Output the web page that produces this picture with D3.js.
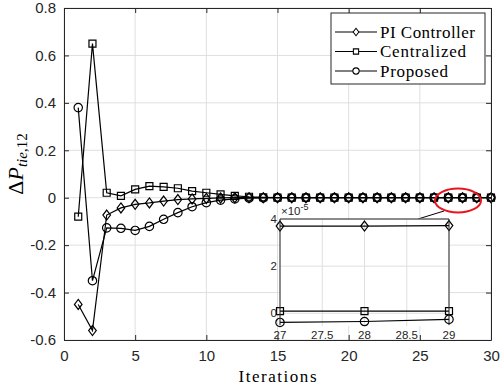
<!DOCTYPE html>
<meta charset="utf-8">
<head>
<style>
  body { margin: 0; background: white; }
  svg { display: block; }
  .tick text { font-family: "Liberation Sans", Arial, sans-serif; }
</style>
<script src="https://cdn.jsdelivr.net/npm/d3@7"></script>
</head>
<body>
<svg id="chart"></svg>
<script>
// ---- data ----
let iterations = [1,2,3,4,5,6,7,8,9,10,11,12,13,14,15,16,17,18,19,20,21,22,23,24,25,26,27,28,29,30]
let piController = [-0.45,-0.56,-0.073,-0.043,-0.028,-0.022,-0.014,-0.008,-0.005,-0.003,-0.001,0,0,0,0,0,0,0,0,0,0,0,0,0,0,0,3.7e-5,3.7e-5,3.72e-5,0]
let centralized = [-0.08,0.65,0.021,0.008,0.035,0.049,0.046,0.04,0.028,0.021,0.014,0.008,0.004,0.002,0,0,0,0,0,0,0,0,0,0,0,0,0.09e-5,0.09e-5,0.09e-5,0]
let proposed = [0.38,-0.35,-0.127,-0.129,-0.138,-0.121,-0.091,-0.063,-0.038,-0.021,-0.01,-0.005,-0.002,-0.001,0,0,0,0,0,0,0,0,0,0,0,0,-0.39e-5,-0.35e-5,-0.26e-5,0]
let seriesNames = ["PI Controller", "Centralized", "Proposed"]
let markers = ["diamond", "square", "circle"]

let xTicks = [0,5,10,15,20,25,30]
let yTicks = [-0.6,-0.4,-0.2,0,0.2,0.4,0.6,0.8]

// inset (zoom on iterations 27..29)
let insetIter = [27,28,29]
let insetXTicks = [27,27.5,28,28.5,29]
let insetYTicks = [0,2e-5,4e-5]

let width = 500, height = 387
let margin = {left: 64, right: 9, top: 8, bottom: 47}
let axisColor = "#262626", gridColor = "#dfdfdf"

let svg = d3.select("#chart").attr("width", width).attr("height", height)

let x = d3.scaleLinear().domain([0,30]).range([margin.left, width - margin.right])
let y = d3.scaleLinear().domain([-0.6,0.8]).range([height - margin.bottom, margin.top])

function markerPath(type) {
  if (type == "diamond") return "M0,-5L3.8,0L0,5L-3.8,0Z"
  if (type == "square") return "M-3.5,-3.5H3.5V3.5H-3.5Z"
  return d3.symbol(d3.symbolCircle, Math.PI * 4.2 * 4.2)()
}

let allSeries = [piController, centralized, proposed]

// grid
svg.append("g").selectAll("line").data(xTicks).enter().append("line")
  .attr("x1", d => x(d)).attr("x2", d => x(d))
  .attr("y1", y(-0.6)).attr("y2", y(0.8))
  .attr("stroke", gridColor)
svg.append("g").selectAll("line").data(yTicks).enter().append("line")
  .attr("y1", d => y(d)).attr("y2", d => y(d))
  .attr("x1", x(0)).attr("x2", x(30))
  .attr("stroke", gridColor)

// series
let line = d3.line().x((d, i) => x(iterations[i])).y(d => y(d))
allSeries.forEach((s, k) => {
  svg.append("path").datum(s).attr("d", line)
    .attr("fill", "none").attr("stroke", "black").attr("stroke-width", 1.2)
  svg.append("g").selectAll("path").data(s).enter().append("path")
    .attr("d", markerPath(markers[k]))
    .attr("transform", (d, i) => `translate(${x(iterations[i])},${y(d)})`)
    .attr("fill", "none").attr("stroke", "black").attr("stroke-width", 1.2)
})

// red ellipse + connector
svg.append("ellipse").attr("cx", 458).attr("cy", 200.5).attr("rx", 23).attr("ry", 12)
  .attr("fill", "none").attr("stroke", "#e8141b").attr("stroke-width", 2)
svg.append("line").attr("x1", 444).attr("y1", 211).attr("x2", 418).attr("y2", 219)
  .attr("stroke", "black").attr("stroke-width", 1)

// ---- inset ----
let ix = d3.scaleLinear().domain([27,29]).range([280, 449])
let iy = d3.scaleLinear().domain([-0.54e-5, 4e-5]).range([326, 219])
let inset = svg.append("g")
inset.append("rect").attr("x", 280).attr("y", 219).attr("width", 169).attr("height", 107).attr("fill", "white")
inset.append("g").selectAll("line").data(insetXTicks).enter().append("line")
  .attr("x1", d => ix(d)).attr("x2", d => ix(d)).attr("y1", 219).attr("y2", 326)
  .attr("stroke", gridColor)
inset.append("g").selectAll("line").data(insetYTicks).enter().append("line")
  .attr("y1", d => iy(d)).attr("y2", d => iy(d)).attr("x1", 280).attr("x2", 449)
  .attr("stroke", gridColor)
let insetSeries = allSeries.map(s => s.slice(26, 29))
let iline = d3.line().x((d, i) => ix(insetIter[i])).y(d => iy(d))
insetSeries.forEach((s, k) => {
  inset.append("path").datum(s).attr("d", iline)
    .attr("fill", "none").attr("stroke", "black").attr("stroke-width", 1.2)
  inset.append("g").selectAll("path").data(s).enter().append("path")
    .attr("d", markerPath(markers[k]))
    .attr("transform", (d, i) => `translate(${ix(insetIter[i])},${iy(d)})`)
    .attr("fill", "none").attr("stroke", "black").attr("stroke-width", 1.2)
})
// inset frame (bottom edge hidden behind labels in the original)
inset.append("path").attr("d", "M280,325V219H449V325")
  .attr("fill", "none").attr("stroke", axisColor).attr("stroke-width", 1)
inset.append("g").selectAll("text").data(insetXTicks).enter().append("text")
  .attr("x", d => ix(d)).attr("y", 339)
  .attr("text-anchor", "middle")
  .attr("font-family", "Liberation Sans, Arial, sans-serif").attr("font-size", 11.5)
  .attr("fill", axisColor)
  .text(d => d)
inset.append("g").selectAll("text").data(insetYTicks).enter().append("text")
  .attr("x", 277).attr("y", d => iy(d) + 4)
  .attr("text-anchor", "end")
  .attr("font-family", "Liberation Sans, Arial, sans-serif").attr("font-size", 11.5)
  .attr("fill", axisColor)
  .text(d => d / 1e-5)
let expo = inset.append("text").attr("x", 281).attr("y", 215)
  .attr("font-family", "Liberation Sans, Arial, sans-serif").attr("font-size", 11.5)
  .attr("fill", axisColor)
expo.append("tspan").text("\u00d710")
expo.append("tspan").attr("dy", -5).attr("font-size", 9).text("-5")

// ---- main axes box and ticks ----
let axisB = d3.axisBottom(x).tickValues(xTicks).tickSizeInner(-5).tickSizeOuter(0).tickPadding(10)
let axisL = d3.axisLeft(y).tickValues(yTicks).tickSizeInner(-5).tickSizeOuter(0).tickPadding(8)
  .tickFormat(d => d == 0 ? "0" : d.toFixed(1))
let gB = svg.append("g").attr("transform", `translate(0,${y(-0.6)})`).call(axisB)
let gL = svg.append("g").attr("transform", `translate(${x(0)},0)`).call(axisL)
let gT = svg.append("g").attr("transform", `translate(0,${y(0.8)})`)
  .call(d3.axisTop(x).tickValues(xTicks).tickSizeInner(-5).tickSizeOuter(0).tickFormat(""))
let gR = svg.append("g").attr("transform", `translate(${x(30)},0)`)
  .call(d3.axisRight(y).tickValues(yTicks).tickSizeInner(-5).tickSizeOuter(0).tickFormat(""))
;[gB, gL, gT, gR].forEach(g => {
  g.selectAll("path, line").attr("stroke", axisColor)
  g.selectAll("text").attr("fill", axisColor).attr("font-size", 15)
})

// axis labels
svg.append("text").attr("x", x(15)).attr("y", 382)
  .attr("text-anchor", "middle")
  .attr("font-family", "Liberation Serif, Times New Roman, serif").attr("font-size", 17)
  .attr("textLength", 78)
  .text("Iterations")

let yl = svg.append("text")
  .attr("transform", "translate(23,164) rotate(-90)")
  .attr("text-anchor", "middle")
  .attr("font-family", "Liberation Serif, Times New Roman, serif").attr("font-size", 22)
yl.append("tspan").text("\u0394")
yl.append("tspan").attr("font-style", "italic").text("P")
yl.append("tspan").attr("dy", 4).attr("font-size", 15).attr("font-style", "italic").text("tie")
yl.append("tspan").attr("font-size", 15).text(",12")

// ---- legend ----
let leg = svg.append("g")
leg.append("rect").attr("x", 331).attr("y", 13).attr("width", 154).attr("height", 71)
  .attr("fill", "white").attr("stroke", axisColor).attr("stroke-width", 1)
let legY = [32, 51.5, 71]
seriesNames.forEach((name, k) => {
  leg.append("line").attr("x1", 335).attr("x2", 377).attr("y1", legY[k]).attr("y2", legY[k])
    .attr("stroke", "black").attr("stroke-width", 1.2)
  leg.append("path").attr("d", markerPath(markers[k]))
    .attr("transform", `translate(356,${legY[k]}) scale(0.75)`)
    .attr("fill", "white").attr("stroke", "black").attr("stroke-width", 1.4)
  leg.append("text").attr("x", 380).attr("y", legY[k] + 5.5)
    .attr("font-family", "Liberation Serif, Times New Roman, serif").attr("font-size", 17)
    .attr("textLength", [95, 86, 68][k])
    .text(name)
})
</script>
</body>
